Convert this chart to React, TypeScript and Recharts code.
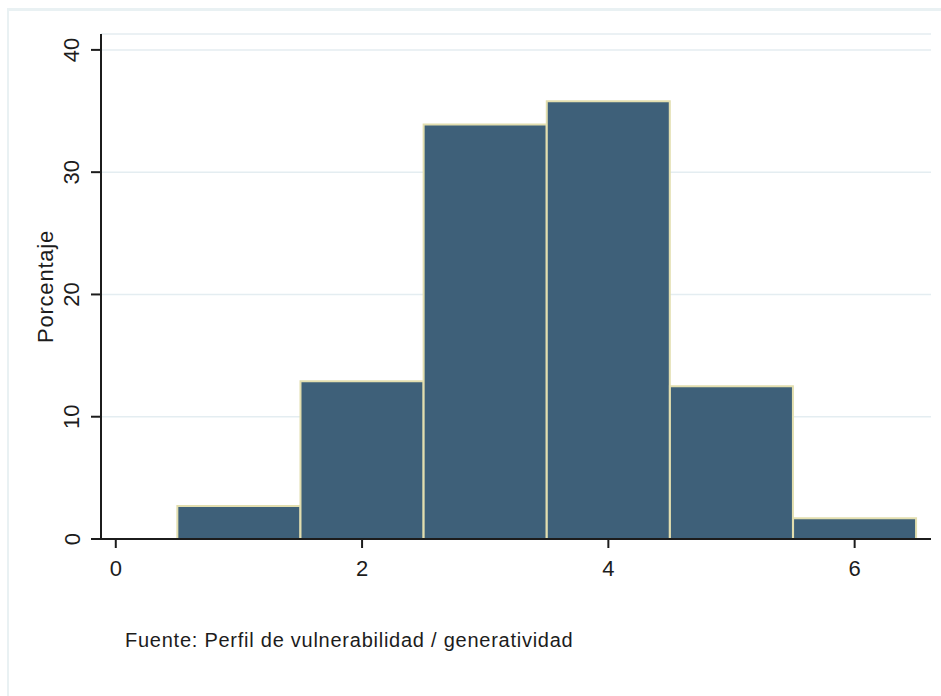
import { Bar, BarChart, CartesianGrid, XAxis, YAxis } from 'recharts'

const binCenters = [1, 2, 3, 4, 5, 6]
const percentages = [2.7, 12.9, 33.9, 35.8, 12.5, 1.7]
const xTicks = [0, 2, 4, 6]
const yTicks = [0, 10, 20, 30, 40]

const data = binCenters.map((x, i) => ({ x, pct: percentages[i] }))

const FONT = '"Liberation Sans", Arial, sans-serif'
const INK = '#1c1c1c'

function YTick({ x, y, payload }: { x?: number; y?: number; payload?: { value: number } }) {
  const cx = (x ?? 0) - 17
  const cy = y ?? 0
  return (
    <text
      x={cx}
      y={cy}
      textAnchor="middle"
      dominantBaseline="central"
      transform={`rotate(-90 ${cx} ${cy})`}
      fill={INK}
      fontSize={22}
      fontFamily={FONT}
    >
      {payload?.value}
    </text>
  )
}

function YTitle({ viewBox }: { viewBox?: { x: number; y: number; width: number; height: number } }) {
  if (!viewBox) return null
  const cx = viewBox.x + 4
  const cy = viewBox.y + viewBox.height / 2
  return (
    <text
      x={cx}
      y={cy}
      textAnchor="middle"
      dominantBaseline="central"
      transform={`rotate(-90 ${cx} ${cy})`}
      fill={INK}
      fontSize={22}
      letterSpacing={0.8}
      fontFamily={FONT}
    >
      Porcentaje
    </text>
  )
}

export default function App() {
  return (
    <div
      style={{
        position: 'absolute',
        left: 0,
        top: 0,
        width: 941,
        height: 696,
        background: '#fff',
        overflow: 'hidden',
        fontFamily: FONT,
      }}
    >
      <div
        style={{
          position: 'absolute',
          left: 7,
          top: 8,
          width: 960,
          height: 720,
          borderTop: '3px solid #e9f1f3',
          borderLeft: '2px solid #e9f1f3',
        }}
      />
      <div style={{ position: 'absolute', left: 0, top: 0 }}>
        <BarChart
          width={941}
          height={696}
          data={data}
          barCategoryGap={0}
          margin={{ top: 34, right: 10, bottom: 97, left: 41 }}
        >
          <CartesianGrid horizontal vertical={false} stroke="#e4edf1" strokeWidth={1.5} />
          <XAxis
            dataKey="x"
            type="number"
            domain={[-0.12, 6.62]}
            allowDataOverflow
            ticks={xTicks}
            height={60}
            tickSize={9}
            tickMargin={12}
            axisLine={{ stroke: INK, strokeWidth: 2 }}
            tickLine={{ stroke: INK, strokeWidth: 2 }}
            tick={{ fill: INK, fontSize: 22, fontFamily: FONT }}
          />
          <YAxis
            type="number"
            domain={[0, 41.3]}
            allowDataOverflow
            ticks={yTicks}
            width={60}
            tickSize={10}
            axisLine={{ stroke: INK, strokeWidth: 2 }}
            tickLine={{ stroke: INK, strokeWidth: 2 }}
            tick={<YTick />}
            label={<YTitle />}
          />
          <Bar
            dataKey="pct"
            fill="#3e6079"
            stroke="#e2deaf"
            strokeWidth={2}
            isAnimationActive={false}
          />
        </BarChart>
      </div>
      <div
        style={{
          position: 'absolute',
          left: 125,
          top: 630,
          fontSize: 20,
          lineHeight: '20px',
          letterSpacing: 0.75,
          color: INK,
          whiteSpace: 'nowrap',
        }}
      >
        Fuente: Perfil de vulnerabilidad / generatividad
      </div>
    </div>
  )
}
